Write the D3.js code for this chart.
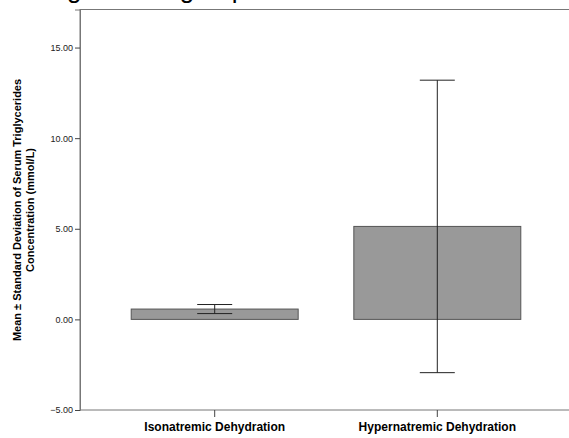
<!DOCTYPE html>
<html>
<head>
<meta charset="utf-8">
<script src="https://cdn.jsdelivr.net/npm/d3@7"></script>
<style>
  body { margin: 0; background: #fff; }
  svg { display: block; font-family: "Liberation Sans", Arial, sans-serif; }
</style>
</head>
<body>
<svg id="chart" width="569" height="438"></svg>
<script>
// data
var groups = ['Isonatremic Dehydration', 'Hypernatremic Dehydration']
var means = [0.57, 5.13]
var sds = [0.25, 8.07]
var yTicks = [-5, 0, 5, 10, 15]
var titleText = 'Serum Triglycerides among the two groups'

var width = 569, height = 438
var margin = { top: 9.5, right: -3, bottom: 28, left: 80 }

var svg = d3.select('#chart')

var x = d3.scaleBand()
    .domain(groups)
    .range([margin.left, width - margin.right])
    .paddingInner(0.25)
    .paddingOuter(0.23)

var y = d3.scaleLinear()
    .domain([-5, 17.1])
    .range([height - margin.bottom, margin.top])

// title, mostly cut off above the picture: only descenders show
var title = svg.append('text')
    .attr('x', 0)
    .attr('y', -2)
    .attr('font-size', 26)
    .attr('fill', '#000')
    .text(titleText)
// put the "g" of "among" at x = 67
var gIdx = titleText.indexOf('among') + 4
var gPos = title.node().getStartPositionOfChar(gIdx).x
title.attr('x', 67 - gPos)

// frame
svg.append('rect')
    .attr('x', margin.left)
    .attr('y', margin.top)
    .attr('width', width - margin.right - margin.left)
    .attr('height', y(-5) - margin.top)
    .attr('fill', 'none')
    .attr('stroke', '#777')

// bars
svg.selectAll('.bar')
    .data(groups)
    .enter().append('rect')
    .attr('class', 'bar')
    .attr('x', function(d) { return x(d) })
    .attr('y', function(d, i) { return y(means[i]) })
    .attr('width', x.bandwidth())
    .attr('height', function(d, i) { return y(0) - y(means[i]) })
    .attr('fill', '#999999')
    .attr('stroke', '#555')

// error bars
var capW = 35
var err = svg.selectAll('.err')
    .data(groups)
    .enter().append('g')
    .attr('class', 'err')
    .attr('stroke', '#222')
    .attr('stroke-width', 1)
err.append('line')
    .attr('x1', function(d) { return x(d) + x.bandwidth() / 2 })
    .attr('x2', function(d) { return x(d) + x.bandwidth() / 2 })
    .attr('y1', function(d, i) { return y(means[i] + sds[i]) })
    .attr('y2', function(d, i) { return y(means[i] - sds[i]) })
err.append('line')
    .attr('x1', function(d) { return x(d) + x.bandwidth() / 2 - capW / 2 })
    .attr('x2', function(d) { return x(d) + x.bandwidth() / 2 + capW / 2 })
    .attr('y1', function(d, i) { return y(means[i] + sds[i]) })
    .attr('y2', function(d, i) { return y(means[i] + sds[i]) })
err.append('line')
    .attr('x1', function(d) { return x(d) + x.bandwidth() / 2 - capW / 2 })
    .attr('x2', function(d) { return x(d) + x.bandwidth() / 2 + capW / 2 })
    .attr('y1', function(d, i) { return y(means[i] - sds[i]) })
    .attr('y2', function(d, i) { return y(means[i] - sds[i]) })

// y axis
var yAxis = svg.append('g')
    .attr('transform', 'translate(' + margin.left + ',0)')
    .call(d3.axisLeft(y).tickValues(yTicks).tickSize(5).tickPadding(2)
        .tickFormat(d3.format('.2f')))
yAxis.select('.domain').attr('stroke', '#777')
yAxis.selectAll('.tick line').attr('stroke', '#444')
yAxis.selectAll('text')
    .attr('font-size', 9)
    .attr('fill', '#222')
    .attr('font-family', '"Liberation Sans", Arial, sans-serif')

// x axis
var xAxis = svg.append('g')
    .attr('transform', 'translate(0,' + y(-5) + ')')
    .call(d3.axisBottom(x).tickSize(7).tickPadding(5))
xAxis.select('.domain').remove()
xAxis.selectAll('.tick line').attr('stroke', '#444')
xAxis.selectAll('text')
    .attr('font-size', 12)
    .attr('font-weight', 'bold')
    .attr('fill', '#000')
    .attr('font-family', '"Liberation Sans", Arial, sans-serif')

// y label
var ylab = svg.append('text')
    .attr('transform', 'translate(21,' + 210 + ') rotate(-90)')
    .attr('text-anchor', 'middle')
    .attr('font-size', 11)
    .attr('font-weight', 'bold')
    .attr('fill', '#000')
ylab.append('tspan').attr('x', 0).attr('dy', 0)
    .text('Mean \u00b1 Standard Deviation of Serum Triglycerides')
ylab.append('tspan').attr('x', 0).attr('dy', 13)
    .text('Concentration (mmol/L)')
</script>
</body>
</html>
